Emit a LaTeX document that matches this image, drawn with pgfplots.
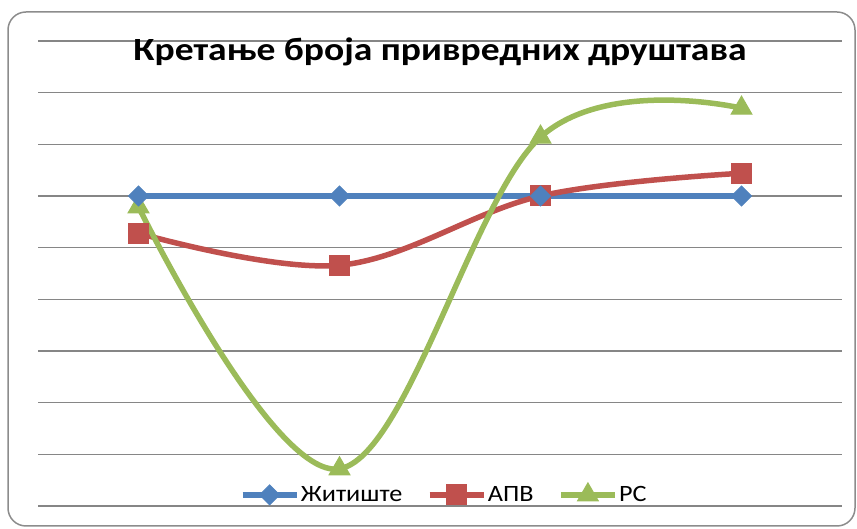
\documentclass[border=0pt]{standalone}
\usepackage{pgfplots}
\pgfplotsset{compat=1.18}
\usepackage{fontspec}
\setmainfont{Carlito}
\definecolor{cblue}{HTML}{4F81BD}
\definecolor{cred}{HTML}{C0504D}
\definecolor{cgreen}{HTML}{9BBB59}
\definecolor{cgrid}{RGB}{134,134,134}
\definecolor{cborder}{RGB}{140,140,140}
\begin{document}
\begin{tikzpicture}[x=1bp,y=1bp]
\useasboundingbox (-38,-23) rectangle (819,506);
\draw[cborder, line width=1.5bp, rounded corners=18bp] (-30,-20) rectangle (817,494);
\begin{axis}[
  at={(0,0)}, anchor=south west,
  width=804bp, height=465bp, scale only axis,
  xmin=-0.5, xmax=3.5, ymin=0, ymax=9,
  xtick=\empty, ytick={0,1,...,9}, yticklabels={},
  major tick length=0pt,
  ymajorgrids, major grid style={cgrid, line width=1.6bp},
  axis line style={draw=none},
  title={\scalebox{1.16}[1]{Кретање броја привредних друштава}},
  title style={at={(0.5,0.946)}, anchor=base, inner sep=0pt, font=\bfseries\fontsize{32.5}{38}\selectfont},
  legend columns=3, reverse legend,
  legend style={at={(0.505,0.026)}, anchor=center, draw=none, fill=none,
    font=\fontsize{23.5}{28}\selectfont,
    nodes={inner sep=1.5bp},
    /tikz/every even column/.append style={column sep=23bp}},
  every axis plot/.append style={line width=5.5bp, smooth, tension=0.6},
]
% lines first
\addplot[cblue, no marks, forget plot] coordinates {(0,6) (1,6) (2,6) (3,6)};
\addplot[cred, no marks, forget plot] coordinates {(0,5.28) (1,4.66) (2,6) (3,6.44)};
\addplot[cgreen, no marks, forget plot] coordinates {(0,5.79) (1,0.72) (2,7.14) (3,7.70)};
% markers on top
\addplot[cgreen, only marks, mark=triangle*, mark size=12bp, mark options={solid, line width=1pt},
  legend image code/.code={\draw[line width=5.5bp] (0bp,0bp) -- (54bp,0bp); \draw[only marks] plot coordinates {(27bp,0bp)};}]
  coordinates {(0,5.79) (1,0.72) (2,7.14) (3,7.70)};
\addplot[cred, only marks, mark=square*, mark size=10bp, mark options={solid, line width=1pt},
  legend image code/.code={\draw[line width=5.5bp] (0bp,0bp) -- (54bp,0bp); \draw[only marks] plot coordinates {(27bp,0bp)};}]
  coordinates {(0,5.28) (1,4.66) (2,6) (3,6.44)};
\addplot[cblue, only marks, mark=diamond*, mark size=10bp, mark options={solid, line width=1pt, xscale=1.333},
  legend image code/.code={\draw[line width=5.5bp] (0bp,0bp) -- (54bp,0bp); \draw[only marks] plot coordinates {(27bp,0bp)};}]
  coordinates {(0,6) (1,6) (2,6) (3,6)};
\legend{\scalebox{1.12}[1]{РС}, \scalebox{1.12}[1]{АПВ}, \scalebox{1.12}[1]{Житиште}}
\end{axis}
\end{tikzpicture}
\end{document}
